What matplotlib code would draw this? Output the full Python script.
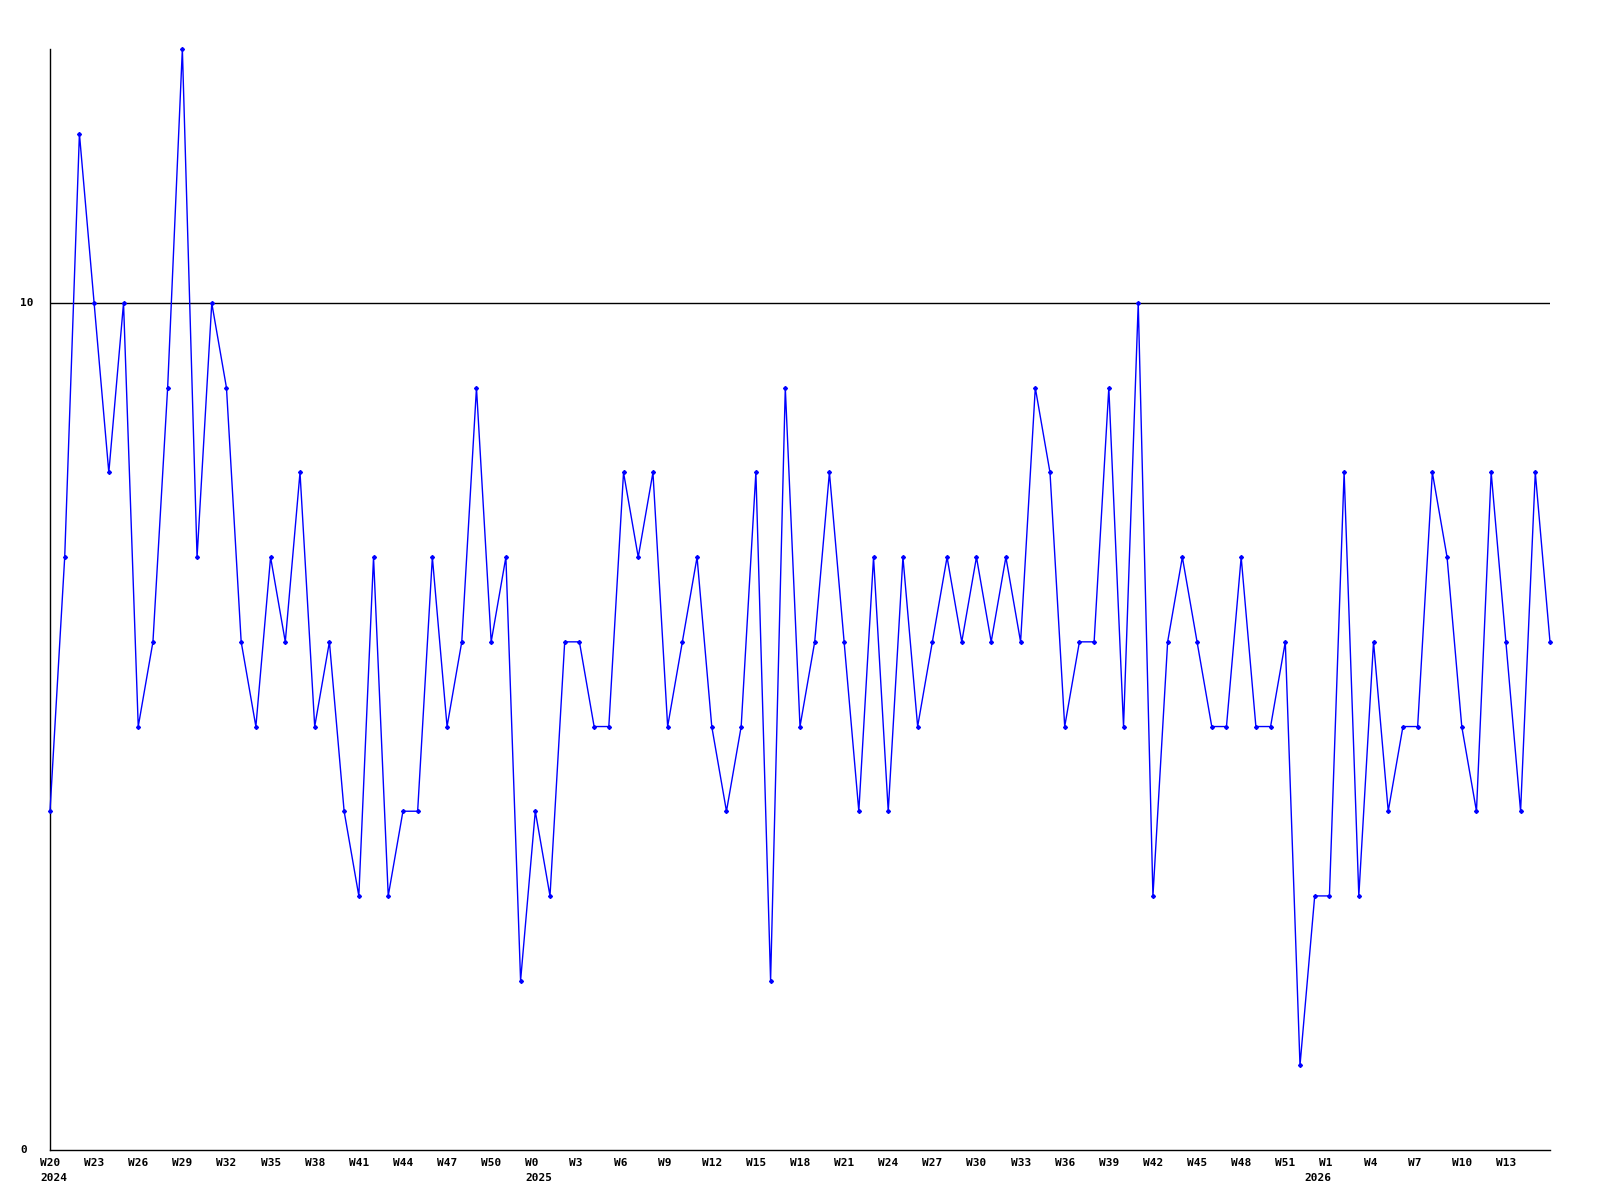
import numpy as np
import matplotlib
matplotlib.use("Agg")
import matplotlib.pyplot as plt

# week numbering per year (Sunday-based, so each year starts at W0)
years = [2024, 2025, 2026]
year_weeks = {2024: list(range(20, 53)), 2025: list(range(0, 53)), 2026: list(range(0, 17))}

counts = [4, 7, 12, 10, 8, 10, 5, 6, 9, 13, 7, 10, 9, 6, 5, 7, 6, 8, 5, 6,
          4, 3, 7, 3, 4, 4, 7, 5, 6, 9, 6, 7, 2, 4, 3, 6, 6, 5, 5, 8,
          7, 8, 5, 6, 7, 5, 4, 5, 8, 2, 9, 5, 6, 8, 6, 4, 7, 4, 7, 5,
          6, 7, 6, 7, 6, 7, 6, 9, 8, 5, 6, 6, 9, 5, 10, 3, 6, 7, 6, 5,
          5, 7, 5, 5, 6, 1, 3, 3, 8, 3, 6, 4, 5, 5, 8, 7, 5, 4, 8, 6,
          4, 8, 6]

y_ticks = [0, 10]
ref_line = 10

weeks = []
year_start = {}
for yr in years:
    year_start[yr] = len(weeks)
    weeks += [(yr, w) for w in year_weeks[yr]]

x = np.arange(len(weeks))
W, H = 1600, 1200
fig = plt.figure(figsize=(16, 12), dpi=100)
ax = fig.add_axes([50 / W, 50 / H, 1500 / W, 1101 / H])

ax.plot(x, counts, color="#0000ff", lw=1.0, marker="D", ms=2.0,
        mec="#0000ff", mfc="#0000ff", clip_on=False, zorder=3)
ax.axhline(ref_line, color="black", lw=1.0, zorder=1)

ax.set_xlim(0, len(weeks) - 1)
ax.set_ylim(0, max(counts))

for s in ["top", "right"]:
    ax.spines[s].set_visible(False)
for s in ["left", "bottom"]:
    ax.spines[s].set_linewidth(1.0)
    ax.spines[s].set_color("black")

ax.set_xticks([])
ax.set_yticks([])

font = dict(family="DejaVu Sans Mono", fontweight="bold", fontsize=8, color="black")

# y labels, left-aligned in the margin
for v in y_ticks:
    ax.annotate(str(v), xy=(0, v), xycoords=("axes fraction", "data"),
                xytext=(-30, 0), textcoords="offset pixels",
                ha="left", va="center", **font)

# week labels every 3rd point (not at the right edge), year label under first week
for i in range(0, len(weeks) - 1, 3):
    yr, w = weeks[i]
    ax.annotate(f"W{w}", xy=(i, 0), xycoords=("data", "axes fraction"),
                xytext=(-10, -8), textcoords="offset pixels",
                ha="left", va="top", **font)
for yr in years:
    i = year_start[yr]
    ax.annotate(str(yr), xy=(i, 0), xycoords=("data", "axes fraction"),
                xytext=(-10, -23), textcoords="offset pixels",
                ha="left", va="top", **font)

fig.savefig("out.png", dpi=100, facecolor="white")
